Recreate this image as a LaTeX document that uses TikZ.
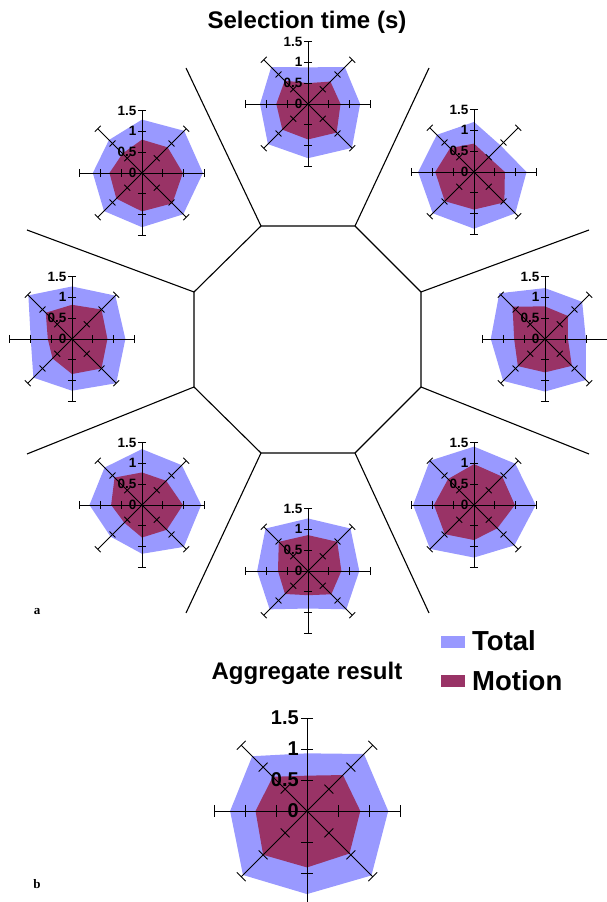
\documentclass[tikz,border=0pt]{standalone}
\usepackage{fontspec}
\setmainfont{Liberation Sans}
\newfontfamily\panelfont{Liberation Serif}
\usepackage{tikz}
\definecolor{totalcol}{HTML}{9999FF}
\definecolor{motioncol}{HTML}{993366}
\tikzset{
	axisline/.style={black,line width=0.9pt},
	sepline/.style={black,line width=1.1pt},
	ticklbl/.style={anchor=east,inner sep=0pt,font=\bfseries\fontsize{#1}{#1}\selectfont},
	headtxt/.style={font=\bfseries\fontsize{24}{24}\selectfont,inner sep=0pt},
	legbox/.style={minimum width=24pt,minimum height=12.5pt,inner sep=0pt},
	legtxt/.style={anchor=west,inner sep=0pt,font=\bfseries\fontsize{27.5}{27.5}\selectfont},
	paneltxt/.style={font=\panelfont\bfseries\fontsize{13}{13}\selectfont,inner sep=0pt}
}
% #1: name, #2: x, #3: y, #4: pt per unit, #5: label size, #6: total values, #7: motion values
\newcommand{\spider}[7]{%
	\begin{scope}[shift={(#2,#3)}]
		\foreach \v [count=\i] in {#6} \coordinate (#1-t\i) at ({135-45*\i}:{\v*#4});
		\foreach \v [count=\i] in {#7} \coordinate (#1-m\i) at ({135-45*\i}:{\v*#4});
		\fill[totalcol] (#1-t1) -- (#1-t2) -- (#1-t3) -- (#1-t4) -- (#1-t5) -- (#1-t6) -- (#1-t7) -- (#1-t8) -- cycle;
		\fill[motioncol] (#1-m1) -- (#1-m2) -- (#1-m3) -- (#1-m4) -- (#1-m5) -- (#1-m6) -- (#1-m7) -- (#1-m8) -- cycle;
		\foreach \a in {0,45,...,315} {
			\draw[axisline,rotate=\a] (0,0) -- (1.5*#4,0);
			\foreach \r in {0.5,1,1.5}
				\draw[axisline,rotate=\a] (\r*#4,-0.1*#4) -- (\r*#4,0.1*#4);
		}
		\foreach \r/\t [count=\i] in {0/0,0.5/0.5,1/1,1.5/1.5}
			\node[ticklbl=#5] (#1-l\i) at (-0.13*#4,\r*#4) {\t};
	\end{scope}
}

\begin{document}
\begin{tikzpicture}[x=1pt,y=1pt]
	\useasboundingbox (0,0) rectangle (607,902);
	
	% Title
	\node[headtxt] (title) at (307,880) {Selection time (s)};
	
	% Octagon and separators
	\foreach \ox/\oy/\ex/\ey [count=\i] in {261/676/186/834,355/676/429/834,421/610/589/672,421/515/589/448,355/449/429/289,261/449/186/289,194/515/27/448,194/610/27/672} {
		\coordinate (o\i) at (\ox,\oy);
		\coordinate (e\i) at (\ex,\ey);
		\draw[sepline] (o\i) -- (e\i);
	}
	\draw[sepline] (o1) -- (o2) -- (o3) -- (o4) -- (o5) -- (o6) -- (o7) -- (o8) -- cycle;
	
	% Charts round the octagon
	\spider{nchart}{308}{798}{41.7}{13.5}{0.88,1.25,1.25,1.49,1.30,1.36,1.15,1.25}{0.50,0.76,0.78,0.97,0.85,0.87,0.76,0.79}
	\spider{nechart}{474}{730}{41.7}{13.5}{1.20,0.90,1.26,1.40,1.36,1.40,1.34,1.26}{0.68,0.50,0.74,1.03,0.90,0.99,0.93,0.81}
	\spider{echart}{545}{563}{41.7}{13.5}{1.22,1.26,0.98,1.39,1.26,1.42,1.30,1.55}{0.78,0.78,0.55,0.91,0.80,0.92,0.74,1.10}
	\spider{sechart}{474}{397}{41.7}{13.5}{1.40,1.40,1.48,1.37,1.26,1.49,1.46,1.50}{0.98,0.96,0.98,0.79,0.84,0.99,0.96,0.88}
	\spider{schart}{308}{331}{41.7}{13.5}{1.26,1.44,1.23,1.30,0.90,1.30,1.22,1.44}{0.86,0.99,0.80,0.79,0.58,0.78,0.72,0.99}
	\spider{swchart}{142}{397}{41.7}{13.5}{1.34,1.35,1.42,1.42,1.17,1.07,1.26,1.27}{0.78,0.82,0.98,0.84,0.78,0.60,0.74,0.93}
	\spider{wchart}{72}{563}{41.7}{13.5}{1.26,1.47,1.28,1.50,1.24,1.31,0.99,1.48}{0.82,1.00,0.85,1.00,0.84,0.66,0.58,0.89}
	\spider{nwchart}{142}{729}{41.7}{13.5}{1.28,1.43,1.46,1.40,1.30,1.29,1.18,1.12}{0.80,0.87,0.98,1.03,0.92,0.87,0.78,0.66}
	
	% Legend
	\node[legbox,fill=totalcol] (totalkey) at (453,260) {};
	\node[legtxt] (totaltxt) at (472,261) {Total};
	\node[legbox,fill=motioncol] (motionkey) at (453,221) {};
	\node[legtxt] (motiontxt) at (472,221) {Motion};
	
	% Aggregate chart
	\node[headtxt] (aggtitle) at (307,229) {Aggregate result};
	\spider{aggchart}{307}{91}{62}{20}{0.93,1.30,1.31,1.47,1.34,1.46,1.24,1.25}{0.57,0.82,0.86,0.97,0.91,1.00,0.83,0.78}
	
	% Panel letters
	\node[paneltxt] (pa) at (37,290) {a};
	\node[paneltxt] (pb) at (37,18) {b};
\end{tikzpicture}
\end{document}
